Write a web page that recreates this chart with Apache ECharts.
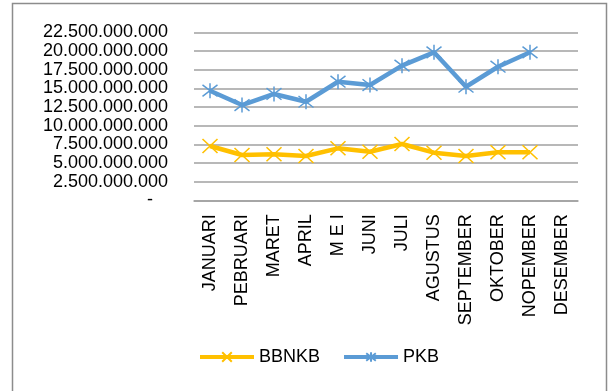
<!DOCTYPE html>
<html>
<head>
<meta charset="utf-8">
<script src="https://cdn.jsdelivr.net/npm/echarts@6/dist/echarts.min.js"></script>
<style>
html,body{margin:0;padding:0;background:#fff;}
#chart{width:608px;height:391px;}
</style>
</head>
<body>
<div id="chart"></div>
<script>
var categories = ['JANUARI','PEBRUARI','MARET','APRIL','M E I','JUNI','JULI','AGUSTUS','SEPTEMBER','OKTOBER','NOPEMBER','DESEMBER'];
var bbnkb = [7270000000, 6070000000, 6160000000, 5930000000, 6960000000, 6510000000, 7540000000, 6380000000, 5930000000, 6430000000, 6430000000, null];
var pkb = [14680000000, 12760000000, 14240000000, 13200000000, 15880000000, 15440000000, 18030000000, 19820000000, 15210000000, 17890000000, 19820000000, null];
var yTicks = [0, 2500000000, 5000000000, 7500000000, 10000000000, 12500000000, 15000000000, 17500000000, 20000000000, 22500000000];

var FONT = 'Liberation Sans';
var xPath = 'path://M0 0 L10 10 M10 0 L0 10';
var starPath = 'path://M0 0 L10 10 M10 0 L0 10 M5 -1.5 L5 11.5';

function fmt(v){
  if (v === 0) return '-   ';
  return String(Math.round(v)).replace(/\B(?=(\d{3})+(?!\d))/g, '.');
}

var chart = echarts.init(document.getElementById('chart'));
chart.setOption({
  animation: false,
  backgroundColor: '#fff',
  textStyle: {fontFamily: FONT},
  graphic: [{
    type: 'rect',
    shape: {x: 12.5, y: 3.5, width: 594, height: 420},
    style: {fill: 'none', stroke: '#8c8c8c', lineWidth: 1.5},
    silent: true
  }],
  grid: {left: 194, right: 30, top: 32.3, bottom: 190.7, containLabel: false},
  xAxis: {
    type: 'category',
    data: categories,
    boundaryGap: true,
    axisLine: {show: true, lineStyle: {color: '#a0a0a0', width: 1.5}},
    axisTick: {show: false},
    axisLabel: {rotate: 90, interval: 0, margin: 14, fontSize: 18, color: '#000', fontFamily: FONT}
  },
  yAxis: {
    type: 'value',
    min: yTicks[0],
    max: yTicks[yTicks.length - 1],
    interval: yTicks[1] - yTicks[0],
    axisLine: {show: false},
    axisTick: {show: false},
    splitLine: {lineStyle: {color: '#a0a0a0', width: 1.5}},
    axisLabel: {margin: 26, fontSize: 18, showMinLabel: true, showMaxLabel: true, color: '#000', fontFamily: FONT, formatter: fmt}
  },
  legend: {
    left: 193,
    top: 343,
    itemWidth: 54,
    itemHeight: 12,
    itemGap: 22,
    lineStyle: {width: 4},
    textStyle: {fontSize: 18, color: '#000', fontFamily: FONT},
    data: ['BBNKB', 'PKB']
  },
  series: [
    {
      name: 'BBNKB',
      type: 'line',
      data: bbnkb,
      color: '#FFC000',
      symbol: xPath,
      symbolSize: [15, 14],
      showAllSymbol: true,
      lineStyle: {width: 4.5, color: '#FFC000'},
      itemStyle: {color: '#FFC000', borderColor: '#FFC000', borderWidth: 1.5}
    },
    {
      name: 'PKB',
      type: 'line',
      data: pkb,
      color: '#5B9BD5',
      symbol: starPath,
      symbolSize: [15, 15],
      showAllSymbol: true,
      lineStyle: {width: 4.5, color: '#5B9BD5'},
      itemStyle: {color: '#5B9BD5', borderColor: '#5B9BD5', borderWidth: 1.5}
    }
  ]
});
</script>
</body>
</html>
